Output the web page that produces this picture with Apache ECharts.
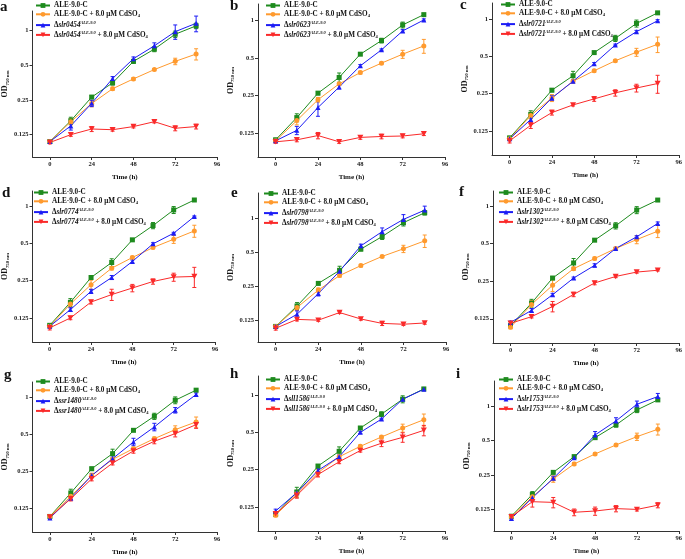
<!DOCTYPE html>
<html><head><meta charset="utf-8">
<script src="https://cdn.jsdelivr.net/npm/echarts@6/dist/echarts.min.js"></script>
<style>html,body{margin:0;padding:0;background:#fff}#c{width:685px;height:559px}</style>
</head><body><div id="c"></div><script>
const times = [0, 12, 24, 36, 48, 60, 72, 84];
const panelLetters = ['a','b','c','d','e','f','g','h','i'];
const genes = ['slr0454','slr0623','slr0721','slr0774','slr0798','slr1302','ssr1480','sll1586','slr1753'];
const xTickValues = [0, 24, 48, 72, 96];
const yTickValues = [0.125, 0.25, 0.5, 1];

// OD750 values, one row per panel (a..i)
const ctrlOD = [
  [0.109,0.165,0.265,0.352,0.541,0.691,0.930,1.100],
  [0.110,0.166,0.261,0.349,0.537,0.691,0.923,1.117],
  [0.110,0.170,0.267,0.349,0.537,0.700,0.923,1.124],
  [0.109,0.167,0.265,0.350,0.533,0.695,0.929,1.117],
  [0.110,0.167,0.265,0.346,0.534,0.690,0.916,1.122],
  [0.110,0.167,0.265,0.350,0.533,0.695,0.929,1.117],
  [0.107,0.166,0.261,0.346,0.535,0.696,0.939,1.133],
  [0.109,0.165,0.267,0.351,0.541,0.700,0.923,1.117],
  [0.108,0.168,0.263,0.362,0.532,0.689,0.934,1.145]
];
const ctrlCdOD = [
  [0.109,0.162,0.233,0.313,0.381,0.459,0.541,0.626],
  [0.108,0.157,0.231,0.310,0.382,0.455,0.537,0.626],
  [0.108,0.167,0.231,0.315,0.383,0.461,0.541,0.627],
  [0.107,0.162,0.232,0.315,0.384,0.462,0.539,0.629],
  [0.110,0.162,0.231,0.311,0.381,0.460,0.537,0.632],
  [0.107,0.163,0.232,0.315,0.380,0.457,0.539,0.629],
  [0.107,0.156,0.230,0.311,0.380,0.458,0.542,0.626],
  [0.107,0.160,0.236,0.317,0.385,0.458,0.541,0.631],
  [0.107,0.160,0.230,0.312,0.382,0.459,0.543,0.631]
];
const mutOD = [
  [0.109,0.149,0.234,0.384,0.571,0.738,0.980,1.157],
  [0.108,0.131,0.200,0.292,0.433,0.582,0.826,1.012],
  [0.108,0.155,0.231,0.315,0.436,0.619,0.792,0.970],
  [0.107,0.146,0.205,0.265,0.357,0.495,0.603,0.821],
  [0.110,0.141,0.215,0.340,0.571,0.763,0.980,1.184],
  [0.117,0.146,0.195,0.265,0.335,0.457,0.567,0.726],
  [0.104,0.151,0.230,0.315,0.431,0.570,0.779,1.045],
  [0.116,0.163,0.246,0.317,0.499,0.638,0.923,1.110],
  [0.103,0.157,0.233,0.354,0.562,0.747,1.048,1.225]
];
const mutCdOD = [
  [0.107,0.125,0.140,0.138,0.147,0.162,0.142,0.147],
  [0.106,0.110,0.119,0.106,0.115,0.117,0.118,0.123],
  [0.104,0.139,0.176,0.203,0.227,0.254,0.278,0.302],
  [0.104,0.125,0.168,0.193,0.218,0.246,0.267,0.270],
  [0.106,0.127,0.125,0.146,0.128,0.117,0.115,0.118],
  [0.115,0.130,0.157,0.196,0.242,0.273,0.296,0.306],
  [0.106,0.149,0.216,0.290,0.364,0.436,0.503,0.595],
  [0.110,0.155,0.228,0.289,0.356,0.408,0.455,0.518],
  [0.107,0.145,0.143,0.117,0.120,0.126,0.124,0.135]
];
// standard deviations
const ctrlErr = [
  [0.003,0.012,0.008,0.015,0.020,0.035,0.060,0.060],
  [0.003,0.012,0.008,0.030,0.010,0.030,0.050,0.020],
  [0.003,0.012,0.008,0.030,0.010,0.040,0.060,0.020],
  [0.003,0.012,0.008,0.025,0.010,0.040,0.060,0.020],
  [0.003,0.012,0.008,0.030,0.020,0.040,0.060,0.050],
  [0.003,0.012,0.008,0.030,0.010,0.040,0.060,0.020],
  [0.003,0.012,0.008,0.030,0.010,0.040,0.060,0.020],
  [0.003,0.015,0.008,0.030,0.010,0.030,0.060,0.020],
  [0.003,0.010,0.008,0.010,0.015,0.030,0.050,0.020]
];
const ctrlCdErr = [
  [0.003,0.010,0.015,0.010,0.010,0.010,0.035,0.070],
  [0.003,0.012,0.010,0.008,0.010,0.010,0.040,0.080],
  [0.003,0.010,0.015,0.010,0.010,0.010,0.040,0.090],
  [0.003,0.010,0.020,0.010,0.010,0.010,0.040,0.070],
  [0.003,0.010,0.010,0.010,0.010,0.010,0.040,0.080],
  [0.003,0.012,0.025,0.010,0.010,0.010,0.040,0.070],
  [0.003,0.010,0.010,0.010,0.010,0.015,0.040,0.060],
  [0.003,0.010,0.015,0.010,0.010,0.010,0.040,0.070],
  [0.003,0.010,0.015,0.010,0.010,0.010,0.040,0.070]
];
const mutErr = [
  [0.003,0.012,0.015,0.015,0.020,0.045,0.140,0.180],
  [0.003,0.010,0.030,0.010,0.010,0.010,0.020,0.020],
  [0.003,0.008,0.010,0.008,0.010,0.010,0.020,0.020],
  [0.003,0.005,0.008,0.010,0.010,0.010,0.010,0.010],
  [0.003,0.010,0.010,0.010,0.020,0.060,0.100,0.100],
  [0.003,0.005,0.005,0.005,0.010,0.010,0.010,0.020],
  [0.003,0.006,0.008,0.010,0.030,0.040,0.040,0.030],
  [0.004,0.005,0.010,0.010,0.010,0.010,0.020,0.020],
  [0.003,0.010,0.010,0.010,0.040,0.050,0.070,0.080]
];
const mutCdErr = [
  [0.003,0.004,0.007,0.004,0.004,0.004,0.007,0.007],
  [0.003,0.004,0.007,0.003,0.004,0.005,0.004,0.004],
  [0.004,0.008,0.008,0.004,0.010,0.015,0.020,0.050],
  [0.004,0.004,0.006,0.020,0.015,0.012,0.020,0.050],
  [0.004,0.004,0.003,0.003,0.003,0.005,0.003,0.003],
  [0.003,0.003,0.015,0.008,0.008,0.006,0.006,0.004],
  [0.003,0.006,0.008,0.010,0.015,0.020,0.030,0.040],
  [0.003,0.008,0.010,0.010,0.010,0.025,0.040,0.050],
  [0.003,0.015,0.015,0.008,0.010,0.008,0.004,0.007]
];

// layout: [gridLeft, gridTop, xEnd, xAxisY, yMax, legendLeft, legendTop, letterX, letterY]
const layout = [
  [29, 11, 217, 157, 1.48, 35, 1, 5, 9],
  [258, 4, 445, 157, 1.36, 265, 1, 235, 8],
  [492, 3, 682, 155, 1.35, 500, 0, 465, 7],
  [28, 191, 215, 342, 1.32, 33, 188, 7, 195],
  [258, 193, 446, 342, 1.68, 263, 189, 236, 195],
  [493, 191, 681, 343, 1.32, 498, 188, 464, 194],
  [29, 382, 217, 532, 1.32, 35, 377, 9, 377],
  [258, 376, 445, 531, 1.42, 265, 375, 235, 376],
  [494, 381, 682, 531, 1.68, 498, 375, 461, 376]
];

const FONT = "'Liberation Serif','Times New Roman',serif";
const COLORS = ['#1e8b1e', '#ff9a2e', '#1c1cf5', '#fa2a2a'];
const SYMBOLS = ['rect', 'circle', 'triangle', 'path://M0,0L10,0L5,9Z'];
const CD = ' + 8.0 μM CdSO4';

function legendFmt(name) {
  let s = name, suffix = '';
  if (s.endsWith(CD)) { s = s.slice(0, -CD.length); suffix = '{b| + 8.0 μM CdSO}{sub|4}'; }
  if (s.startsWith('Δ')) {
    const g = s.slice(1, -'ALE-9.0'.length);
    return '{b|Δ}{it|' + g + '}{sup|ALE-9.0}' + suffix;
  }
  return '{b|' + s + '}' + suffix;
}
const richLegend = {
  b: { fontFamily: FONT, fontWeight: 'bold', fontSize: 7.2, lineHeight: 9, color: '#111' },
  it: { fontFamily: FONT, fontWeight: 'bold', fontStyle: 'italic', fontSize: 7.2, lineHeight: 9, color: '#111' },
  sup: { fontFamily: FONT, fontWeight: 'bold', fontStyle: 'italic', fontSize: 4.3, lineHeight: 5, verticalAlign: 'top', color: '#111' },
  sub: { fontFamily: FONT, fontWeight: 'bold', fontSize: 4.5, lineHeight: 5, verticalAlign: 'bottom', color: '#111' }
};

const grids = [], xAxes = [], yAxes = [], series = [], legends = [], graphics = [];

function errorSeries(p, vals, errs, color) {
  return {
    type: 'custom', xAxisIndex: p, yAxisIndex: p, z: 2,
    data: times.map((t, i) => [t, vals[i] - errs[i], vals[i] + errs[i]]),
    encode: { x: 0, y: [1, 2] },
    renderItem: function (params, api) {
      const x = api.value(0);
      const a = api.coord([x, api.value(1)]);
      const b = api.coord([x, api.value(2)]);
      const w = 2;
      const st = { stroke: color, lineWidth: 1 };
      return { type: 'group', children: [
        { type: 'line', shape: { x1: a[0], y1: a[1], x2: b[0], y2: b[1] }, style: st },
        { type: 'line', shape: { x1: a[0] - w, y1: a[1], x2: a[0] + w, y2: a[1] }, style: st },
        { type: 'line', shape: { x1: b[0] - w, y1: b[1], x2: b[0] + w, y2: b[1] }, style: st }
      ]};
    }
  };
}

layout.forEach((L, p) => {
  const [gl, gt, xe, xb, ymax, ll, lt, lx, ly] = L;
  grids.push({ left: gl, top: gt, width: xe - gl, height: xb - gt });
  xAxes.push({
    gridIndex: p, type: 'value', min: -10, max: 96,
    axisLine: { show: true, onZero: false, lineStyle: { color: '#333', width: 1 } },
    axisTick: { show: true, length: 3, customValues: xTickValues, lineStyle: { color: '#333' } },
    axisLabel: { customValues: xTickValues, margin: 4, fontFamily: FONT, fontWeight: 'bold', fontSize: 6.5, color: '#222' },
    splitLine: { show: false },
    name: 'Time (h)', nameLocation: 'middle', nameGap: 17,
    nameTextStyle: { fontFamily: FONT, fontWeight: 'bold', fontSize: 7, color: '#111' }
  });
  yAxes.push({
    gridIndex: p, type: 'log', logBase: 2, min: 0.08, max: ymax,
    axisLine: { show: true, onZero: false, lineStyle: { color: '#333', width: 1 } },
    axisTick: { show: true, length: 3, customValues: yTickValues, lineStyle: { color: '#333' } },
    axisLabel: { customValues: yTickValues, margin: 4, fontFamily: FONT, fontWeight: 'bold', fontSize: 6.5, color: '#222',
      formatter: v => String(+Number(v).toPrecision(6)) },
    splitLine: { show: false },
    name: '{od|OD}{sub|750 nm}', nameLocation: 'middle', nameGap: 19,
    nameTextStyle: { rich: {
      od: { fontFamily: FONT, fontWeight: 'bold', fontSize: 8, lineHeight: 10, color: '#111' },
      sub: { fontFamily: FONT, fontWeight: 'bold', fontSize: 4.8, lineHeight: 5, verticalAlign: 'bottom', color: '#111' }
    } }
  });
  const names = ['ALE-9.0-C', 'ALE-9.0-C' + CD, 'Δ' + genes[p] + 'ALE-9.0', 'Δ' + genes[p] + 'ALE-9.0' + CD];
  const vals = [ctrlOD[p], ctrlCdOD[p], mutOD[p], mutCdOD[p]];
  const errs = [ctrlErr[p], ctrlCdErr[p], mutErr[p], mutCdErr[p]];
  for (let k = 0; k < 4; k++) {
    series.push(errorSeries(p, vals[k], errs[k], COLORS[k]));
    series.push({
      type: 'line', name: names[k], xAxisIndex: p, yAxisIndex: p, z: 3,
      data: times.map((t, i) => [t, vals[k][i]]),
      symbol: SYMBOLS[k], symbolSize: k === 3 ? [6, 5.5] : 5,
      itemStyle: { color: COLORS[k] }, lineStyle: { color: COLORS[k], width: 1 }
    });
  }
  legends.push({
    orient: 'vertical', left: ll, top: lt + 1, itemWidth: 14, itemHeight: 6, itemGap: 1.8, padding: 0,
    data: names, formatter: legendFmt, textStyle: { rich: richLegend, padding: [0, 0, 0, -1] }
  });
  graphics.push({
    type: 'text', left: lx - 5, top: ly - 9,
    style: { text: panelLetters[p], font: "bold 15px 'Liberation Serif','Times New Roman',serif", fill: '#111' }
  });
});

const chart = echarts.init(document.getElementById('c'), null, { renderer: 'canvas' });
chart.setOption({
  animation: false, backgroundColor: '#fff',
  grid: grids, xAxis: xAxes, yAxis: yAxes, series: series, legend: legends, graphic: graphics
});
</script></body></html>
